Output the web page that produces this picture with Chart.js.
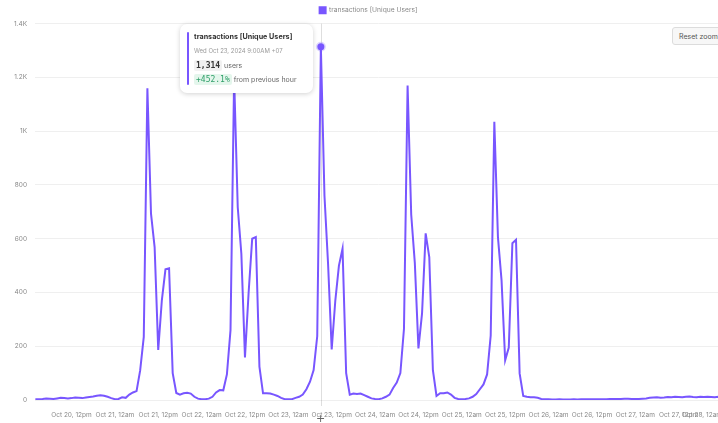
<!DOCTYPE html>
<html>
<head>
<meta charset="utf-8">
<script src="https://cdn.jsdelivr.net/npm/chart.js@4.4.1/dist/chart.umd.min.js"></script>
<style>
html,body{margin:0;padding:0;overflow:hidden;background:#fff;width:718px;height:423px;}
#wrap{position:relative;width:725px;height:423px;}
canvas{display:block;}
.tip{position:absolute;left:180px;top:24px;width:133px;height:69px;background:#fff;border-radius:7px;box-shadow:0 1px 5px rgba(0,0,0,0.18);font-family:Inter,"Open Sans",sans-serif;}
.tip .bar{position:absolute;left:7px;top:8px;width:2px;height:53px;background:#7856ff;border-radius:1px;}
.tip .t{position:absolute;left:14px;top:8px;font-size:7.2px;font-weight:700;color:#333;white-space:nowrap;}
.tip .d{position:absolute;left:14px;top:23px;font-size:6px;color:#999;white-space:nowrap;}
.tip .r{position:absolute;left:14px;font-size:7px;color:#666;white-space:nowrap;}
.mono{font-family:"DejaVu Sans Mono","Liberation Mono",monospace;font-size:8px;padding:1px 2px;border-radius:2px;}
.m1{background:#f1f1f1;color:#333;font-weight:700;}
.m2{background:#e4f6ec;color:#2e9e68;}
.reset{position:absolute;left:672px;top:27px;width:52px;height:18px;border:1px solid #dcdcdc;background:#f7f7f7;border-radius:3px;font-family:Inter,sans-serif;font-size:7px;color:#555;line-height:18px;padding-left:6px;box-sizing:border-box;}
.cur{position:absolute;left:316px;top:412px;font-family:"DejaVu Sans",sans-serif;font-size:11px;color:#666;}
</style>
</head>
<body>
<div id="wrap">
<canvas id="c" width="725" height="423"></canvas>
<div class="tip">
  <div class="bar"></div>
  <div class="t">transactions [Unique Users]</div>
  <div class="d">Wed Oct 23, 2024 9:00AM +07</div>
  <div class="r" style="top:37px"><span class="mono m1">1,314</span> users</div>
  <div class="r" style="top:51px"><span class="mono m2">+452.1%</span> from previous hour</div>
</div>
<div class="reset">Reset zoom</div>
<div class="cur">+</div>
</div>
<script>
// Hourly unique users (hours counted from Oct 20, 12am local)
const firstHour = 2;
const oct20 = [3,3,4,6,5,4,6,8,7,6,7,9,8,7,9,11,13,16,18,16,12,7];
const oct21 = [3,4,10,8,20,28,33,110,235,1160,693,569,186,371,486,490,100,26,20,25,27,24,12,5];
const oct22 = [3,3,5,12,28,37,36,95,260,1200,717,544,158,397,600,606,124,25,25,24,20,15,8,3];
const oct23 = [3,3,8,12,20,40,68,111,238,1314,760,505,188,370,500,563,100,20,24,22,24,18,12,6];
const oct24 = [4,3,6,12,20,45,65,100,265,1170,690,510,192,322,620,532,111,15,25,25,28,20,8,4];
const oct25 = [3,4,6,12,22,40,58,95,240,1035,606,445,148,195,583,596,99,15,12,10,10,8,4,3];
const oct26 = [3,2,2,3,2,2,2,3,2,3,3,3,3,3,3,3,3,4,4,4,4,5,5,4];
const oct27 = [4,4,5,6,8,9,10,8,9,11,10,12,11,10,12,13,11,10,12,11,12,11,10,12];
const oct28 = [11];

const xTickHours = [12,24,36,48,60,72,84,96,108,120,132,144,156,168,180,192];
const yTicks = [0,200,400,600,800,1000,1200,1400];
const yTickLabels = ['0','200','400','600','800','1K','1.2K','1.4K'];
const dayNames = ['Oct 20','Oct 21','Oct 22','Oct 23','Oct 24','Oct 25','Oct 26','Oct 27','Oct 28'];
const hoverHour = 81;

const users = [].concat(oct20, oct21, oct22, oct23, oct24, oct25, oct26, oct27, oct28);
const points = users.map((v, i) => ({x: firstHour + i, y: v}));
const hoverIdx = hoverHour - firstHour;

const LINE = '#7856ff';
const xMin = 1.9, xMax = 192;

const crosshair = {
  id: 'crosshair',
  beforeDatasetsDraw(chart) {
    const {ctx, chartArea, scales} = chart;
    const x = Math.round(scales.x.getPixelForValue(hoverHour)) + 0.5;
    ctx.save();
    ctx.strokeStyle = 'rgba(0,0,0,0.13)';
    ctx.lineWidth = 1;
    ctx.beginPath();
    ctx.moveTo(x, chartArea.top);
    ctx.lineTo(x, chartArea.bottom + 6);
    ctx.stroke();
    ctx.restore();
  }
};
const shiftLegend = {
  id: 'shiftLegend',
  afterLayout(chart) {
    if (chart.legend) { chart.legend.left += 6; chart.legend.right += 6; }
  }
};

new Chart(document.getElementById('c'), {
  type: 'line',
  data: {
    datasets: [{
      label: 'transactions [Unique Users]',
      data: points,
      borderColor: LINE,
      backgroundColor: LINE,
      borderWidth: 2,
      tension: 0,
      fill: false,
      pointRadius: c => c.dataIndex === hoverIdx ? 3.5 : 0,
      pointBackgroundColor: LINE,
      pointBorderColor: 'rgba(120,86,255,0.25)',
      pointBorderWidth: 3
    }]
  },
  options: {
    responsive: false,
    animation: false,
    events: [],
    layout: {padding: {left: 0, right: 0, top: 1, bottom: 0}},
    plugins: {
      tooltip: {enabled: false},
      legend: {
        position: 'top',
        labels: {
          boxWidth: 6, boxHeight: 6, padding: 6,
          color: '#888',
          font: {size: 6.7, family: 'Inter'}
        }
      }
    },
    scales: {
      x: {
        type: 'linear',
        min: xMin, max: xMax,
        grid: {display: false},
        border: {display: false},
        afterBuildTicks: s => { s.ticks = [{value: xMin}].concat(xTickHours.map(v => ({value: v}))); },
        afterFit: s => { s.height = 23; },
        ticks: {
          align: 'inner',
          autoSkip: false,
          maxRotation: 0, minRotation: 0,
          padding: 3,
          color: '#888',
          font: {size: 6.5, family: 'Inter'},
          callback: v => {
            if (v % 12 !== 0) return '';
            const d = Math.floor(v / 24);
            return dayNames[d] + ', ' + (v % 24 === 0 ? '12am' : '12pm');
          }
        }
      },
      y: {
        min: 0, max: 1400,
        grid: {color: '#efefef', drawTicks: false},
        border: {display: false},
        afterBuildTicks: s => { s.ticks = yTicks.map(v => ({value: v})); },
        afterFit: s => { s.width = 35; },
        ticks: {
          padding: 8,
          color: '#888',
          font: {size: 6.5, family: 'Inter'},
          callback: v => yTickLabels[yTicks.indexOf(v)]
        }
      }
    }
  },
  plugins: [crosshair, shiftLegend]
});
</script>
</body>
</html>
